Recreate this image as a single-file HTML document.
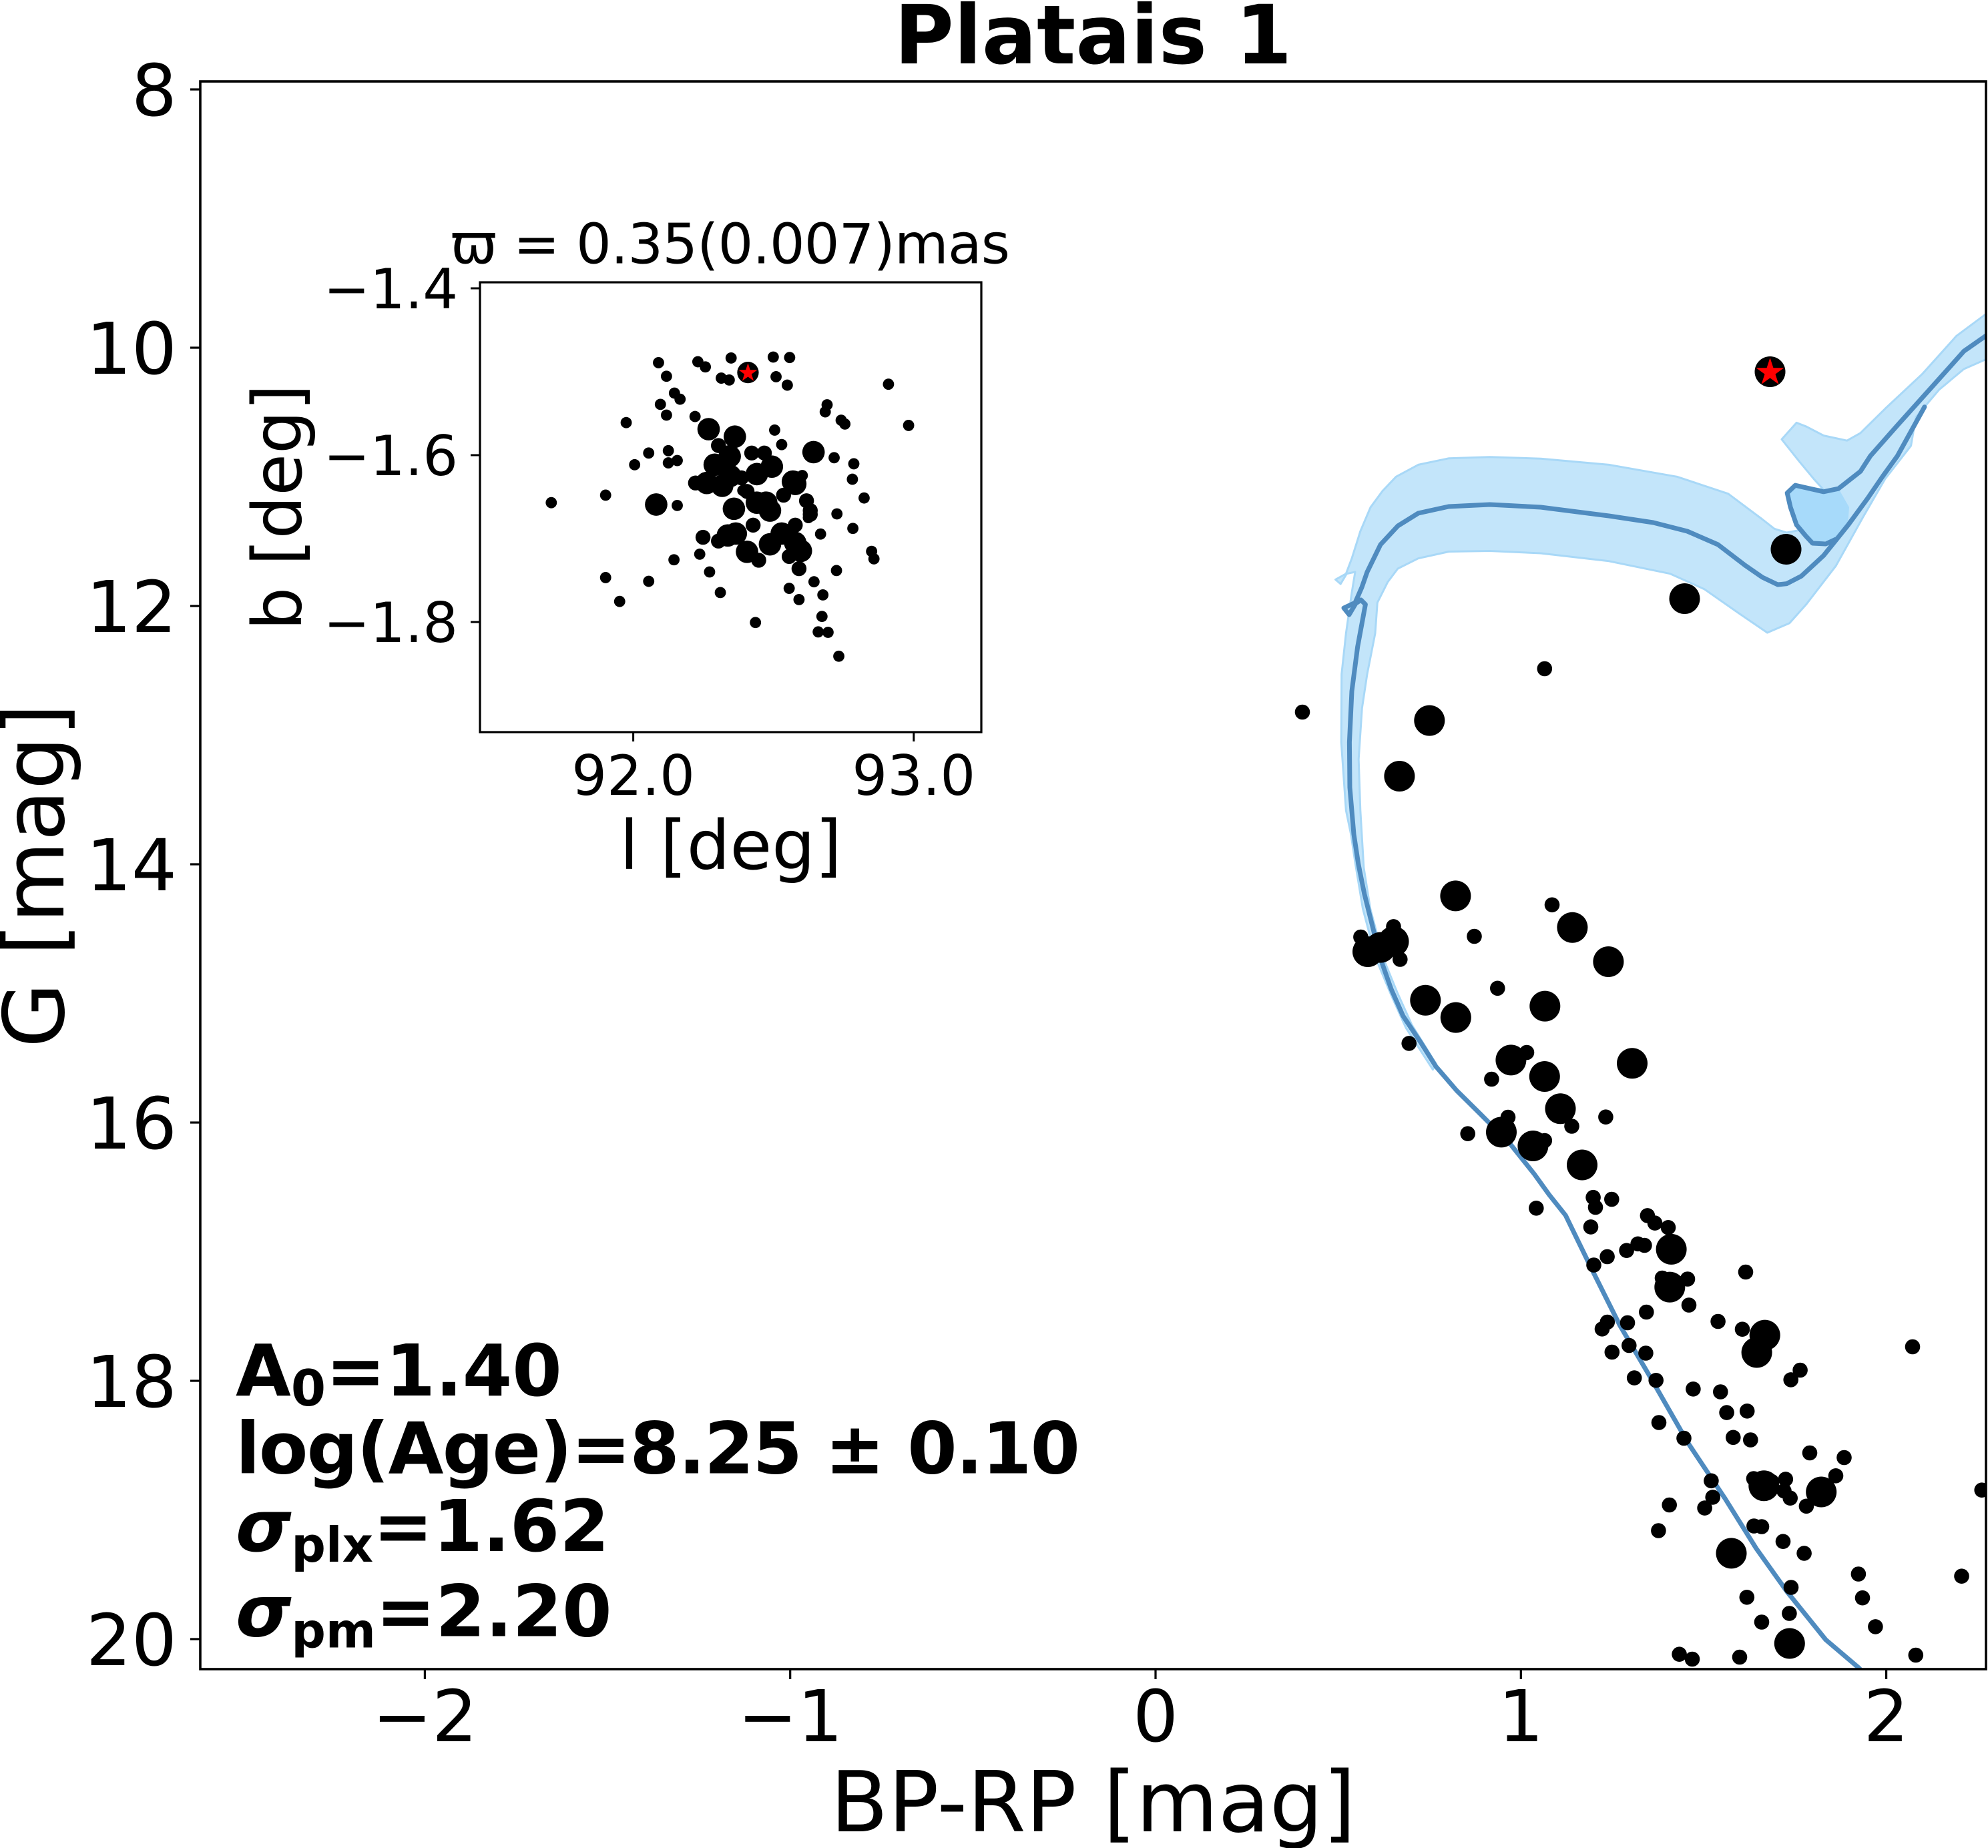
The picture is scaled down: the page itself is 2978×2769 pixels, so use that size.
<!DOCTYPE html>
<html><head><meta charset="utf-8"><style>html,body{margin:0;padding:0;background:#fff}svg{display:block}</style></head><body>
<svg width="2978" height="2769" viewBox="0 0 2978 2769" xmlns="http://www.w3.org/2000/svg" font-family="'DejaVu Sans','Liberation Sans',sans-serif">
<rect width="2978" height="2769" fill="#fff"/>
<defs><clipPath id="cp"><rect x="300" y="122" width="2675" height="2379"/></clipPath></defs>

<text x="1637.5" y="95" font-size="122" font-weight="bold" text-anchor="middle">Platais 1</text>

<g clip-path="url(#cp)">
<polygon fill="#c3e5fa" stroke="#a8d8f7" stroke-width="3" stroke-linejoin="round" points="2146.4,1602.7 2106,1540 2084,1491 2061.6,1437.5 2041.5,1361.6 2030.4,1294.6 2023.7,1250 2016.3,1214.3 2009.2,1112.2 2009.7,1010.2 2016.3,949 2025,887.8 2030,857 2017.3,859.7 2008.2,875 2000.5,868.4 2016.3,859.7 2025,836.7 2037.8,796 2053,760.2 2071,735.7 2091.3,714.3 2124.5,696.4 2170.4,686.7 2231.6,684.7 2308.2,687.2 2410.2,696.4 2512.2,714.3 2588.8,739.8 2639.8,778 2658,792.3 2676.4,798 2696.7,794.2 2691.2,786.5 2682,759.7 2677.2,738.7 2689.3,727.2 2731.7,733.7 2717,717.6 2694.9,690.9 2669,658.3 2691.2,633.4 2706,639.2 2731.7,652.6 2766.8,660.2 2787,648.8 2823.9,612.4 2879.2,560.7 2930.8,503.3 2985,463 2985,534 2941.8,553 2905,583.7 2870,625 2862.6,667.9 2823.9,717.6 2790.7,775 2750.2,847.8 2706,905.2 2680.6,933.7 2647.4,948 2604,918.4 2553,882.7 2502,859.7 2410.2,840.8 2308.2,829 2231.6,825.5 2170.4,826.5 2124.5,836.7 2093.9,852 2078.6,872.4 2063.3,903 2060,949 2053,984.7 2048,1010 2040.3,1061 2035.2,1137.8 2037.8,1214.3 2042.9,1300 2052.7,1361.6 2072.8,1437.5 2092.9,1486.6 2115,1535.7 2151,1593.8"/>
<polygon fill="#a7dafa" points="2691,786 2682,760 2677,739 2689,727 2732,737 2754,732 2770,760 2768,786 2750,808 2715,814"/>

<g fill="none" stroke="#4f8bbf" stroke-width="7" stroke-linejoin="round" stroke-linecap="round">
<polyline points="2790,2505 2784,2498.7 2735,2457 2677,2385 2630.7,2320 2584.3,2245.7 2528.6,2162 2472.8,2064.6 2426.4,1985.7 2384.6,1902 2345.2,1821 2320.5,1790 2298.2,1759 2262.5,1714.3 2218,1669.6 2182,1634 2151,1598 2128.6,1562.5 2101.8,1522.3 2084,1482 2068.3,1437.5 2055,1384 2043.8,1339.3 2034.8,1294.6 2028,1250 2022,1180 2021.4,1112 2025,1035.7 2033.7,969 2045.4,905.6 2038.8,899 2031,904 2021,921 2013,911 2030,903 2040,880 2048,857 2068,816 2094,788 2124.5,769 2170,759 2231.6,756 2308,760 2410,773 2476.5,783 2527.5,796 2573.5,816 2614,847 2640,865 2663,876 2676.4,874.6 2698.6,863.1 2731.7,832.4 2768.6,786.5 2798,746.3 2820.2,713.8 2842.3,683.2 2882.9,609.7"/>
<polyline points="2750,808 2735,815 2715.2,814 2705,803 2691.2,786.5 2682,759.7 2677.2,738.7 2689.3,727.2 2731.7,736.8 2753.9,732.2 2787,706.2 2801.8,683.2 2842.3,637.3 2893.9,579.9 2941.8,526.3 2985,496"/>
</g>

<g fill="#000">
<circle cx="2675.5" cy="823" r="23"/><circle cx="2523.5" cy="897" r="23"/><circle cx="2313.8" cy="1002" r="11.3"/><circle cx="1951" cy="1067" r="11.3"/>
<circle cx="2141.3" cy="1079.6" r="23"/><circle cx="2096.4" cy="1163" r="23"/><circle cx="2180.4" cy="1342.4" r="23"/><circle cx="2325" cy="1355.8" r="11.3"/>
<circle cx="2355.4" cy="1389.7" r="23"/><circle cx="2208.5" cy="1403" r="11.3"/><circle cx="2409.4" cy="1441" r="23"/><circle cx="2038.4" cy="1404" r="11.3"/>
<circle cx="2049" cy="1426" r="23"/><circle cx="2068" cy="1419.6" r="23"/><circle cx="2087.5" cy="1410.7" r="23"/><circle cx="2087.5" cy="1388.4" r="11.3"/>
<circle cx="2097.3" cy="1437.5" r="11.3"/><circle cx="2243.3" cy="1480.8" r="11.3"/><circle cx="2135.3" cy="1498.7" r="23"/><circle cx="2180.8" cy="1524.6" r="23"/>
<circle cx="2314.3" cy="1507.6" r="23"/><circle cx="2110.7" cy="1563.4" r="11.3"/><circle cx="2263.4" cy="1588.4" r="23"/><circle cx="2287" cy="1577" r="11.3"/>
<circle cx="2234.4" cy="1617" r="11.3"/><circle cx="2313.8" cy="1613" r="23"/><circle cx="2445" cy="1593.3" r="23"/><circle cx="2337.5" cy="1661.2" r="23"/>
<circle cx="2354.5" cy="1687.5" r="11.3"/><circle cx="2405.4" cy="1673.7" r="11.3"/><circle cx="2259" cy="1674" r="11.3"/><circle cx="2249" cy="1696.4" r="23"/>
<circle cx="2198.7" cy="1698.7" r="11.3"/><circle cx="2296.4" cy="1717" r="23"/><circle cx="2313.8" cy="1709" r="11.3"/><circle cx="2370" cy="1745.5" r="23"/>
<circle cx="2386.6" cy="1794.2" r="11.3"/><circle cx="2390" cy="1809" r="11.3"/><circle cx="2414.3" cy="1797" r="11.3"/><circle cx="2301.3" cy="1810.3" r="11.3"/>
<circle cx="2383" cy="1838.4" r="11.3"/><circle cx="2467.9" cy="1821.4" r="11.3"/><circle cx="2479" cy="1832.6" r="11.3"/><circle cx="2499" cy="1839.3" r="11.3"/>
<circle cx="2503.6" cy="1871.9" r="23"/><circle cx="2453.6" cy="1863.8" r="11.3"/><circle cx="2463.4" cy="1866" r="11.3"/><circle cx="2436.6" cy="1873.7" r="11.3"/>
<circle cx="2407.6" cy="1883" r="11.3"/><circle cx="2387.5" cy="1895.5" r="11.3"/><circle cx="2615" cy="1906" r="11.3"/><circle cx="2501.3" cy="1928.6" r="23"/>
<circle cx="2490" cy="1915" r="11.3"/><circle cx="2528" cy="1916.5" r="11.3"/><circle cx="2530" cy="1955.5" r="11.3"/><circle cx="2466.3" cy="1966" r="11.3"/>
<circle cx="2407.8" cy="1981" r="11.3"/><circle cx="2400" cy="1991.3" r="11.3"/><circle cx="2438" cy="1982" r="11.3"/><circle cx="2440.3" cy="2016" r="11.3"/>
<circle cx="2414.8" cy="2026" r="11.3"/><circle cx="2465.4" cy="2027.5" r="11.3"/><circle cx="2573.6" cy="1980" r="11.3"/><circle cx="2610" cy="1991.7" r="11.3"/>
<circle cx="2643.7" cy="2000.6" r="23"/><circle cx="2631.6" cy="2026.5" r="23"/><circle cx="2865" cy="2018" r="11.3"/><circle cx="2696.6" cy="2053" r="11.3"/>
<circle cx="2682.7" cy="2067.4" r="11.3"/><circle cx="2448.2" cy="2064.6" r="11.3"/><circle cx="2480.7" cy="2068.3" r="11.3"/><circle cx="2536.4" cy="2081.3" r="11.3"/>
<circle cx="2577.3" cy="2085.5" r="11.3"/><circle cx="2586.6" cy="2116.6" r="11.3"/><circle cx="2617.2" cy="2114.3" r="11.3"/><circle cx="2485" cy="2131.5" r="11.3"/>
<circle cx="2522.5" cy="2155" r="11.3"/><circle cx="2596.3" cy="2153.8" r="11.3"/><circle cx="2622.3" cy="2157.5" r="11.3"/><circle cx="2711" cy="2177" r="11.3"/>
<circle cx="2762.5" cy="2184" r="11.3"/><circle cx="2563.4" cy="2218.8" r="11.3"/><circle cx="2565.7" cy="2243.4" r="11.3"/><circle cx="2642.3" cy="2226.2" r="23"/>
<circle cx="2627" cy="2215.5" r="11.3"/><circle cx="2654" cy="2220" r="11.3"/><circle cx="2674.8" cy="2216.4" r="11.3"/><circle cx="2672.5" cy="2234" r="11.3"/>
<circle cx="2681.7" cy="2244.7" r="11.3"/><circle cx="2728.2" cy="2235.5" r="23"/><circle cx="2750" cy="2211.3" r="11.3"/><circle cx="2705.9" cy="2256.8" r="11.3"/>
<circle cx="2968.7" cy="2232.7" r="11.3"/><circle cx="2500.7" cy="2255" r="11.3"/><circle cx="2553.6" cy="2259.6" r="11.3"/><circle cx="2484.4" cy="2293.5" r="11.3"/>
<circle cx="2627.4" cy="2286.5" r="11.3"/><circle cx="2639" cy="2287.5" r="11.3"/><circle cx="2671" cy="2309.7" r="11.3"/><circle cx="2702.6" cy="2327.4" r="11.3"/>
<circle cx="2593.5" cy="2327.4" r="23"/><circle cx="2783.9" cy="2358.5" r="11.3"/><circle cx="2938.5" cy="2361.7" r="11.3"/><circle cx="2683" cy="2378.5" r="11.3"/>
<circle cx="2616.8" cy="2393.3" r="11.3"/><circle cx="2790" cy="2394.2" r="11.3"/><circle cx="2680.4" cy="2417.5" r="11.3"/><circle cx="2639" cy="2430.5" r="11.3"/>
<circle cx="2809.4" cy="2437.4" r="11.3"/><circle cx="2680.8" cy="2462.5" r="23"/><circle cx="2515.6" cy="2478.7" r="11.3"/><circle cx="2535" cy="2486" r="11.3"/>
<circle cx="2606" cy="2483" r="11.3"/><circle cx="2869.8" cy="2480" r="11.3"/>
<circle cx="2651.5" cy="557" r="23"/>
</g>
<polygon fill="#ff0000" transform="translate(2651.5,558) scale(22)" points="0,-1 0.2245,-0.309 0.9511,-0.309 0.3633,0.118 0.5878,0.809 0,0.382 -0.5878,0.809 -0.3633,0.118 -0.9511,-0.309 -0.2245,-0.309"/>
</g>

<!-- main axes frame and ticks -->
<rect x="300" y="122" width="2675" height="2379" fill="none" stroke="#000" stroke-width="3.6"/>
<g stroke="#000" stroke-width="3.2">
<line x1="285" y1="134" x2="300" y2="134"/><line x1="285" y1="521" x2="300" y2="521"/><line x1="285" y1="908" x2="300" y2="908"/>
<line x1="285" y1="1295" x2="300" y2="1295"/><line x1="285" y1="1682" x2="300" y2="1682"/><line x1="285" y1="2069" x2="300" y2="2069"/>
<line x1="285" y1="2456" x2="300" y2="2456"/>
<line x1="636.4" y1="2501" x2="636.4" y2="2516"/><line x1="1183.7" y1="2501" x2="1183.7" y2="2516"/><line x1="1731" y1="2501" x2="1731" y2="2516"/>
<line x1="2278.3" y1="2501" x2="2278.3" y2="2516"/><line x1="2825.6" y1="2501" x2="2825.6" y2="2516"/>
</g>
<g font-size="107" text-anchor="end">
<text x="265" y="173">8</text><text x="265" y="560">10</text><text x="265" y="947">12</text><text x="265" y="1334">14</text>
<text x="265" y="1721">16</text><text x="265" y="2108">18</text><text x="265" y="2495">20</text>
</g>
<g font-size="107" text-anchor="middle">
<text x="636.4" y="2609">−2</text><text x="1183.7" y="2609">−1</text><text x="1731" y="2609">0</text>
<text x="2278.3" y="2609">1</text><text x="2825.6" y="2609">2</text>
</g>
<text x="1637.5" y="2744" font-size="126" text-anchor="middle">BP-RP [mag]</text>
<text transform="translate(95,1312) rotate(-90)" font-size="126" text-anchor="middle">G [mag]</text>

<!-- text block -->
<g font-weight="bold" font-size="107">
<text x="353" y="2091">A<tspan font-size="75" dy="15">0</tspan><tspan dy="-15">=1.40</tspan></text>
<text x="353" y="2207.6" textLength="1265" lengthAdjust="spacing">log(Age)=8.25 ± 0.10</text>
<text x="353" y="2324"><tspan font-style="italic">σ</tspan><tspan font-size="72" dy="16">plx</tspan><tspan dy="-16">=1.62</tspan></text>
<text x="353" y="2451.4"><tspan font-style="italic">σ</tspan><tspan font-size="72" dy="17">pm</tspan><tspan dy="-17">=2.20</tspan></text>
</g>

<!-- inset -->
<rect x="719" y="423" width="751" height="674" fill="#fff" stroke="#000" stroke-width="3.2"/>
<g transform="translate(400,300) scale(0.701508)" fill="#000">
<g>
<circle cx="836" cy="347" r="12"/><circle cx="920" cy="345" r="12"/><circle cx="936" cy="356" r="12"/><circle cx="991" cy="337" r="12"/>
<circle cx="1081" cy="335" r="12"/><circle cx="1116" cy="336" r="12"/><circle cx="853" cy="376" r="12"/><circle cx="970" cy="380" r="12"/>
<circle cx="987" cy="384" r="12"/><circle cx="1087" cy="377" r="12"/><circle cx="1111" cy="395" r="12"/><circle cx="1327" cy="393" r="12"/>
<circle cx="870" cy="412" r="12"/><circle cx="882" cy="425" r="12"/><circle cx="840" cy="436" r="12"/><circle cx="1196" cy="437" r="12"/>
<circle cx="1192" cy="452" r="12"/><circle cx="853" cy="459" r="12"/><circle cx="914" cy="462" r="12"/><circle cx="767" cy="475" r="12"/>
<circle cx="1226" cy="470" r="12"/><circle cx="1234" cy="478" r="12"/><circle cx="1370" cy="481" r="12"/><circle cx="1084" cy="491" r="12"/>
<circle cx="966" cy="523" r="12"/><circle cx="1099" cy="522" r="12"/><circle cx="857" cy="535" r="12"/><circle cx="815" cy="540" r="12"/>
<circle cx="1033" cy="540" r="12"/><circle cx="1062" cy="540" r="12"/><circle cx="1211" cy="550" r="12"/><circle cx="785" cy="565" r="12"/>
<circle cx="857" cy="561" r="12"/><circle cx="876" cy="556" r="12"/><circle cx="1253" cy="563" r="12"/><circle cx="1143" cy="588" r="12"/>
<circle cx="994" cy="578" r="12"/><circle cx="913" cy="603" r="12"/><circle cx="1250" cy="596" r="12"/><circle cx="723" cy="630" r="12"/>
<circle cx="607" cy="646" r="12"/><circle cx="1016" cy="620" r="12"/><circle cx="1152" cy="642" r="12"/><circle cx="1275" cy="636" r="12"/>
<circle cx="876" cy="652" r="12"/><circle cx="1160" cy="664" r="12"/><circle cx="1156" cy="678" r="12"/><circle cx="1217" cy="670" r="12"/>
<circle cx="1040" cy="693" r="12"/><circle cx="1128" cy="691" r="12"/><circle cx="1251" cy="701" r="12"/><circle cx="931" cy="721" r="12"/>
<circle cx="1182" cy="713" r="12"/><circle cx="965" cy="727" r="12"/><circle cx="924" cy="756" r="12"/><circle cx="1291" cy="750" r="12"/>
<circle cx="1296" cy="766" r="12"/><circle cx="869" cy="768" r="12"/><circle cx="1050" cy="770" r="12"/><circle cx="1115" cy="760" r="12"/>
<circle cx="945" cy="794" r="12"/><circle cx="1136" cy="787" r="12"/><circle cx="1216" cy="791" r="12"/><circle cx="723" cy="806" r="12"/>
<circle cx="815" cy="814" r="12"/><circle cx="1168" cy="815" r="12"/><circle cx="1115" cy="829" r="12"/><circle cx="968" cy="838" r="12"/>
<circle cx="1187" cy="843" r="12"/><circle cx="1136" cy="853" r="12"/><circle cx="753" cy="857" r="12"/><circle cx="1185" cy="889" r="12"/>
<circle cx="1043" cy="902" r="12"/><circle cx="1177" cy="922" r="12"/><circle cx="1198" cy="923" r="12"/><circle cx="1221" cy="974" r="12"/>
</g>
<g>
<circle cx="964" cy="524" r="16"/><circle cx="1035" cy="540" r="16"/><circle cx="1062" cy="540" r="16"/><circle cx="1013" cy="593" r="16"/>
<circle cx="915" cy="604" r="16"/><circle cx="1025" cy="622" r="16"/><circle cx="1103" cy="630" r="16"/><circle cx="1152" cy="642" r="16"/>
<circle cx="1160" cy="663" r="16"/><circle cx="1038" cy="694" r="16"/><circle cx="1128" cy="694" r="16"/><circle cx="1160" cy="671" r="16"/>
<circle cx="931" cy="720" r="16"/><circle cx="964" cy="728" r="16"/><circle cx="1115" cy="761" r="16"/><circle cx="1050" cy="769" r="16"/>
<circle cx="1136" cy="787" r="16"/>
</g>
<g>
<circle cx="943" cy="489" r="24"/><circle cx="999" cy="505" r="24"/><circle cx="1167" cy="538" r="24"/><circle cx="831" cy="650" r="24"/>
<circle cx="956" cy="565" r="24"/><circle cx="988" cy="547" r="24"/><circle cx="939" cy="604" r="24"/><circle cx="972" cy="610" r="24"/>
<circle cx="989" cy="589" r="24"/><circle cx="1046" cy="585" r="24"/><circle cx="1078" cy="569" r="24"/><circle cx="1123" cy="601" r="24"/>
<circle cx="1128" cy="606" r="24"/><circle cx="997" cy="659" r="24"/><circle cx="1046" cy="646" r="24"/><circle cx="1074" cy="663" r="24"/>
<circle cx="1066" cy="646" r="24"/><circle cx="984" cy="716" r="24"/><circle cx="1001" cy="712" r="24"/><circle cx="1099" cy="712" r="24"/>
<circle cx="1074" cy="735" r="24"/><circle cx="1128" cy="732" r="24"/><circle cx="1140" cy="749" r="24"/><circle cx="1025" cy="751" r="24"/>
</g>
<circle cx="1027" cy="368" r="23"/>
<polygon fill="#ff0000" transform="translate(1027,369) scale(21)" points="0,-1 0.2245,-0.309 0.9511,-0.309 0.3633,0.118 0.5878,0.809 0,0.382 -0.5878,0.809 -0.3633,0.118 -0.9511,-0.309 -0.2245,-0.309"/>
</g>
<g stroke="#000" stroke-width="3">
<line x1="705" y1="432" x2="719" y2="432"/><line x1="705" y1="682" x2="719" y2="682"/><line x1="705" y1="932" x2="719" y2="932"/>
<line x1="948.6" y1="1097" x2="948.6" y2="1111"/><line x1="1368.8" y1="1097" x2="1368.8" y2="1111"/>
</g>
<g font-size="83" text-anchor="end">
<text x="686" y="462">−1.4</text><text x="686" y="712">−1.6</text><text x="686" y="962">−1.8</text>
</g>
<g font-size="83" text-anchor="middle">
<text x="948.6" y="1191">92.0</text><text x="1368.8" y="1191">93.0</text>
</g>
<text x="675" y="394.6" font-size="83" textLength="838" lengthAdjust="spacing">ϖ = 0.35(0.007)mas</text>
<text x="1094.5" y="1302" font-size="102" text-anchor="middle">l [deg]</text>
<text transform="translate(451,760) rotate(-90)" font-size="102" text-anchor="middle">b [deg]</text>
</svg>
</body></html>
